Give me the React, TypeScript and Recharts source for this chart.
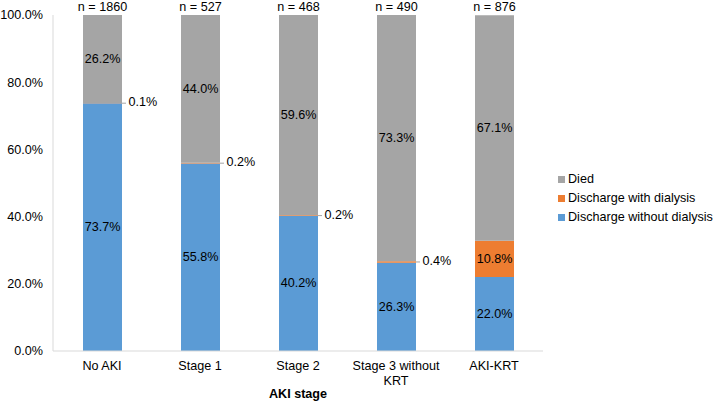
import React from 'react';
import { BarChart, Bar, XAxis, YAxis, LabelList, Label } from 'recharts';

const categories = ['No AKI', 'Stage 1', 'Stage 2', 'Stage 3 without KRT', 'AKI-KRT'];
const nLabels = ['n = 1860', 'n = 527', 'n = 468', 'n = 490', 'n = 876'];
const withoutDialysis = [73.7, 55.8, 40.2, 26.3, 22.0];
const withDialysis = [0.1, 0.2, 0.2, 0.4, 10.8];
const died = [26.2, 44.0, 59.6, 73.3, 67.1];
const yTicks = [0, 20, 40, 60, 80, 100];

const seriesNames = {
  died: 'Died',
  withD: 'Discharge with dialysis',
  withoutD: 'Discharge without dialysis',
};
const colors = {
  died: '#A5A5A5',
  withD: '#ED7D31',
  withoutD: '#5B9BD5',
};

const FONT = '"Liberation Sans", Arial, sans-serif';
const FS = 12.6;

const data = categories.map((c, i) => ({
  name: c,
  n: nLabels[i],
  withoutD: withoutDialysis[i],
  withD: withDialysis[i],
  died: died[i],
}));

const fmt = (v: number) => `${Number(v).toFixed(1)}%`;

const CenterLabel = (props: any) => {
  const { x, y, width, height, value } = props;
  const cx = Number(x) + Number(width) / 2;
  const cy = Number(y) + Number(height) / 2;
  return (
    <text x={cx} y={cy} textAnchor="middle" dominantBaseline="central" fill="#000" fontSize={FS} fontFamily={FONT}>
      {fmt(value)}
    </text>
  );
};

const SmallLabel = (props: any) => {
  const { x, y, width, height, value } = props;
  const v = Number(value);
  if (v >= 5) return <CenterLabel {...props} />;
  const right = Number(x) + Number(width);
  const cy = Number(y) + Number(height) / 2;
  return (
    <g>
      <line x1={right} y1={cy} x2={right + 4} y2={cy} stroke="#A5A5A5" strokeWidth={1} />
      <text x={right + 6.5} y={cy - 1} textAnchor="start" dominantBaseline="central" fill="#000" fontSize={FS} fontFamily={FONT}>
        {fmt(v)}
      </text>
    </g>
  );
};

const TopLabel = (props: any) => {
  const { x, y, width, value } = props;
  return (
    <text x={Number(x) + Number(width) / 2} y={Number(y) - 8} textAnchor="middle" dominantBaseline="central" fill="#000" fontSize={FS} fontFamily={FONT}>
      {value}
    </text>
  );
};

const wrap = (s: string, max = 15) => {
  const words = s.split(' ');
  const lines: string[] = [];
  let cur = '';
  for (const w of words) {
    const t = cur ? cur + ' ' + w : w;
    if (t.length > max && cur) {
      lines.push(cur);
      cur = w;
    } else cur = t;
  }
  if (cur) lines.push(cur);
  return lines;
};

const XTick = (props: any) => {
  const { x, y, payload } = props;
  const lines = wrap(String(payload.value));
  return (
    <text x={x} y={Number(y) + 15} textAnchor="middle" fill="#000" fontSize={FS} fontFamily={FONT} dominantBaseline="central">
      {lines.map((l, i) => (
        <tspan key={i} x={x} dy={i === 0 ? 0 : 14.7}>
          {l}
        </tspan>
      ))}
    </text>
  );
};

const AxisTitle = (props: any) => {
  const vb = props.viewBox || {};
  return (
    <text x={vb.x + vb.width / 2} y={vb.y + 43} textAnchor="middle" dominantBaseline="central" fill="#000" fontSize={FS} fontWeight="bold" fontFamily={FONT}>
      AKI stage
    </text>
  );
};

const legendOrder: Array<'died' | 'withD' | 'withoutD'> = ['died', 'withD', 'withoutD'];

export default function App() {
  return (
    <div style={{ position: 'absolute', left: 0, top: 0, width: 714, height: 401, background: '#fff' }}>
      <BarChart width={714} height={401} data={data} margin={{ top: 15, right: 171, left: 0, bottom: 0 }} barSize={39}>
        <XAxis
          dataKey="name"
          height={50}
          axisLine={{ stroke: '#D9D9D9' }}
          tickLine={false}
          tickSize={0}
          tickMargin={0}
          interval={0}
          tick={<XTick />}
        >
          <Label content={<AxisTitle />} />
        </XAxis>
        <YAxis
          width={53}
          domain={[0, 100]}
          ticks={yTicks}
          tickFormatter={(v: number) => `${v.toFixed(1)}%`}
          axisLine={{ stroke: '#D9D9D9' }}
          tickLine={false}
          tickSize={0}
          tickMargin={10}
          tick={{ fill: '#000', fontSize: FS, fontFamily: FONT }}
          allowDataOverflow
        />
        <Bar dataKey="withoutD" name={seriesNames.withoutD} stackId="a" fill={colors.withoutD} isAnimationActive={false}>
          <LabelList dataKey="withoutD" content={<CenterLabel />} />
        </Bar>
        <Bar dataKey="withD" name={seriesNames.withD} stackId="a" fill={colors.withD} isAnimationActive={false}>
          <LabelList dataKey="withD" content={<SmallLabel />} />
        </Bar>
        <Bar dataKey="died" name={seriesNames.died} stackId="a" fill={colors.died} isAnimationActive={false}>
          <LabelList dataKey="died" content={<CenterLabel />} />
          <LabelList dataKey="n" content={<TopLabel />} />
        </Bar>
      </BarChart>
      <div style={{ position: 'absolute', left: 555, top: 169.5, fontFamily: FONT, fontSize: FS, color: '#000' }}>
        {legendOrder.map((k) => (
          <div key={k} style={{ display: 'flex', alignItems: 'center', height: 19, whiteSpace: 'nowrap' }}>
            <span style={{ display: 'inline-block', width: 7, height: 7, background: colors[k], marginLeft: 3, marginRight: 3 }} />
            <span>{seriesNames[k]}</span>
          </div>
        ))}
      </div>
    </div>
  );
}
